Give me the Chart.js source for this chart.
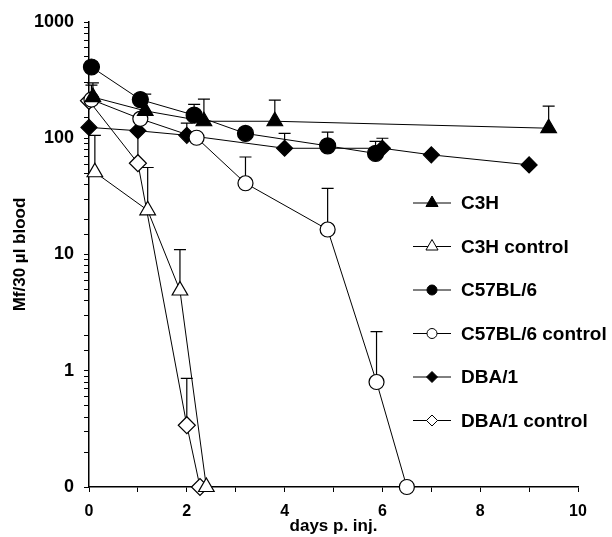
<!DOCTYPE html>
<html>
<head>
<meta charset="utf-8">
<script src="https://cdn.jsdelivr.net/npm/chart.js@4.4.0/dist/chart.umd.min.js"></script>
<style>
  html, body { margin: 0; padding: 0; background: #fff; }
</style>
</head>
<body>
<canvas id="chart" width="612" height="537"></canvas>
<script>
// values (days p. inj. / Mf per 30 µl blood, 0.1 plotted as "0")
const seriesNames = ["C3H", "C3H control", "C57BL/6", "C57BL/6 control", "DBA/1", "DBA/1 control"];

const c3hDays = [0.08, 1.15, 2.35, 3.8, 9.4];
const c3hVals = [226, 172, 140, 140, 122];
const c3hTops = [300, 240, 217, 213, 189];

const c3hCtrlDays = [0.12, 1.2, 1.86, 2.4];
const c3hCtrlVals = [51, 24, 4.9, 0.1];
const c3hCtrlTops = [106, 56, 11, null];

const c57Days = [0.05, 1.05, 2.15, 3.2, 4.88, 5.86];
const c57Vals = [410, 215, 158, 110, 86, 74];
const c57Tops = [null, null, 196, null, 113, 94];

const c57CtrlDays = [0.05, 1.05, 2.2, 3.2, 4.88, 5.88, 6.5];
const c57CtrlVals = [215, 147, 101, 41, 16.4, 0.8, 0.1];
const c57CtrlTops = [286, null, null, 69, 37, 2.17, null];

const dbaDays = [0, 1.0, 2.0, 4.0, 6.0, 7.0, 9.0];
const dbaVals = [124, 116, 106, 82, 82, 72, 59];
const dbaTops = [null, null, 135, 110, 100, null, null];

const dbaCtrlDays = [0, 1.0, 2.0, 2.27];
const dbaCtrlVals = [210, 61, 0.34, 0.1];
const dbaCtrlTops = [null, 115, 0.86, null];

const yTickLabels = { 0.1: "0", 1: "1", 10: "10", 100: "100", 1000: "1000" };

Chart.defaults.font.family = "'Liberation Sans', Arial, sans-serif";
Chart.defaults.font.weight = "bold";
Chart.defaults.color = "#000";

const pts = (days, vals) => days.map((d, i) => ({ x: d, y: vals[i] }));
const allTops = [c3hTops, c3hCtrlTops, c57Tops, c57CtrlTops, dbaTops, dbaCtrlTops];

function series(i, days, vals, style, filled, radius) {
  return {
    label: seriesNames[i],
    data: pts(days, vals),
    borderColor: "#000",
    borderWidth: 1,
    tension: 0,
    fill: false,
    clip: false,
    pointStyle: style,
    pointRadius: radius,
    pointBackgroundColor: filled ? "#000" : "#fff",
    pointBorderColor: "#000",
    pointBorderWidth: 1.2
  };
}

// one-sided error bars (upper only)
const errorBars = {
  id: "errorBars",
  beforeDatasetsDraw(chart) {
    const { ctx, scales: { x, y } } = chart;
    ctx.save();
    ctx.strokeStyle = "#000";
    ctx.lineWidth = 1.2;
    chart.data.datasets.forEach((ds, k) => {
      allTops[k].forEach((top, i) => {
        if (top == null) return;
        const px = x.getPixelForValue(ds.data[i].x);
        const y0 = y.getPixelForValue(ds.data[i].y);
        const y1 = y.getPixelForValue(top);
        ctx.beginPath();
        ctx.moveTo(px, y0);
        ctx.lineTo(px, y1);
        ctx.moveTo(px - 6, y1);
        ctx.lineTo(px + 6, y1);
        ctx.stroke();
      });
    });
    ctx.restore();
  }
};

// legend with line + marker, drawn on the right
const sideLegend = {
  id: "sideLegend",
  afterDraw(chart) {
    const ctx = chart.ctx;
    const legendRadius = [7, 7, 5, 5, 5.5, 5.5];
    ctx.save();
    chart.data.datasets.forEach((ds, i) => {
      const yy = 203 + i * 43.5;
      ctx.strokeStyle = "#000";
      ctx.lineWidth = 1;
      ctx.beginPath();
      ctx.moveTo(413, yy);
      ctx.lineTo(451, yy);
      ctx.stroke();
      ctx.fillStyle = ds.pointBackgroundColor;
      ctx.lineWidth = 1;
      Chart.helpers.drawPoint(ctx, { pointStyle: ds.pointStyle, radius: legendRadius[i], rotation: 0, borderWidth: 1 }, 432, yy);
      ctx.fillStyle = "#000";
      ctx.font = "bold 19px 'Liberation Sans', Arial, sans-serif";
      ctx.textAlign = "left";
      ctx.textBaseline = "middle";
      ctx.fillText(ds.label, 461, yy + 1);
    });
    ctx.restore();
  }
};

const isPow10 = v => Math.abs(Math.log10(v) - Math.round(Math.log10(v))) < 1e-9;

new Chart(document.getElementById("chart"), {
  type: "line",
  data: {
    datasets: [
      series(0, c3hDays, c3hVals, "triangle", true, 9),
      series(1, c3hCtrlDays, c3hCtrlVals, "triangle", false, 9),
      series(2, c57Days, c57Vals, "circle", true, 8),
      series(3, c57CtrlDays, c57CtrlVals, "circle", false, 7.5),
      series(4, dbaDays, dbaVals, "rectRot", true, 8),
      series(5, dbaCtrlDays, dbaCtrlVals, "rectRot", false, 8.5)
    ]
  },
  options: {
    responsive: false,
    animation: false,
    layout: { padding: { left: 0, right: 34, top: 22, bottom: 0 } },
    plugins: { legend: { display: false }, tooltip: { enabled: false } },
    scales: {
      x: {
        type: "linear",
        min: 0,
        max: 10,
        afterFit(s) { s.height = 50; },
        border: { color: "#000", width: 1.5 },
        grid: { drawOnChartArea: false, drawTicks: true, tickLength: 5, color: "#000", tickColor: "#000" },
        ticks: {
          stepSize: 1,
          autoSkip: false,
          maxRotation: 0,
          padding: 10,
          color: "#000",
          font: { size: 16, weight: "bold" },
          callback: v => (v % 2 === 0 ? String(v) : "")
        },
        title: { display: true, text: "days p. inj.", color: "#000", font: { size: 17, weight: "bold" }, padding: 0 }
      },
      y: {
        type: "logarithmic",
        min: 0.1,
        max: 1000,
        afterFit(s) { s.width = 89; },
        border: { color: "#000", width: 1.5 },
        grid: { drawOnChartArea: false, drawTicks: true, tickLength: 5, color: "#000", tickColor: "#000" },
        ticks: {
          autoSkip: false,
          padding: 10,
          color: "#000",
          font: { size: 18, weight: "bold" },
          callback: v => (isPow10(v) ? yTickLabels[Number(v.toPrecision(3))] : "")
        },
        title: { display: true, text: "Mf/30 µl blood", color: "#000", font: { size: 17, weight: "bold" }, padding: 10 }
      }
    }
  },
  plugins: [errorBars, sideLegend]
});
</script>
</body>
</html>
